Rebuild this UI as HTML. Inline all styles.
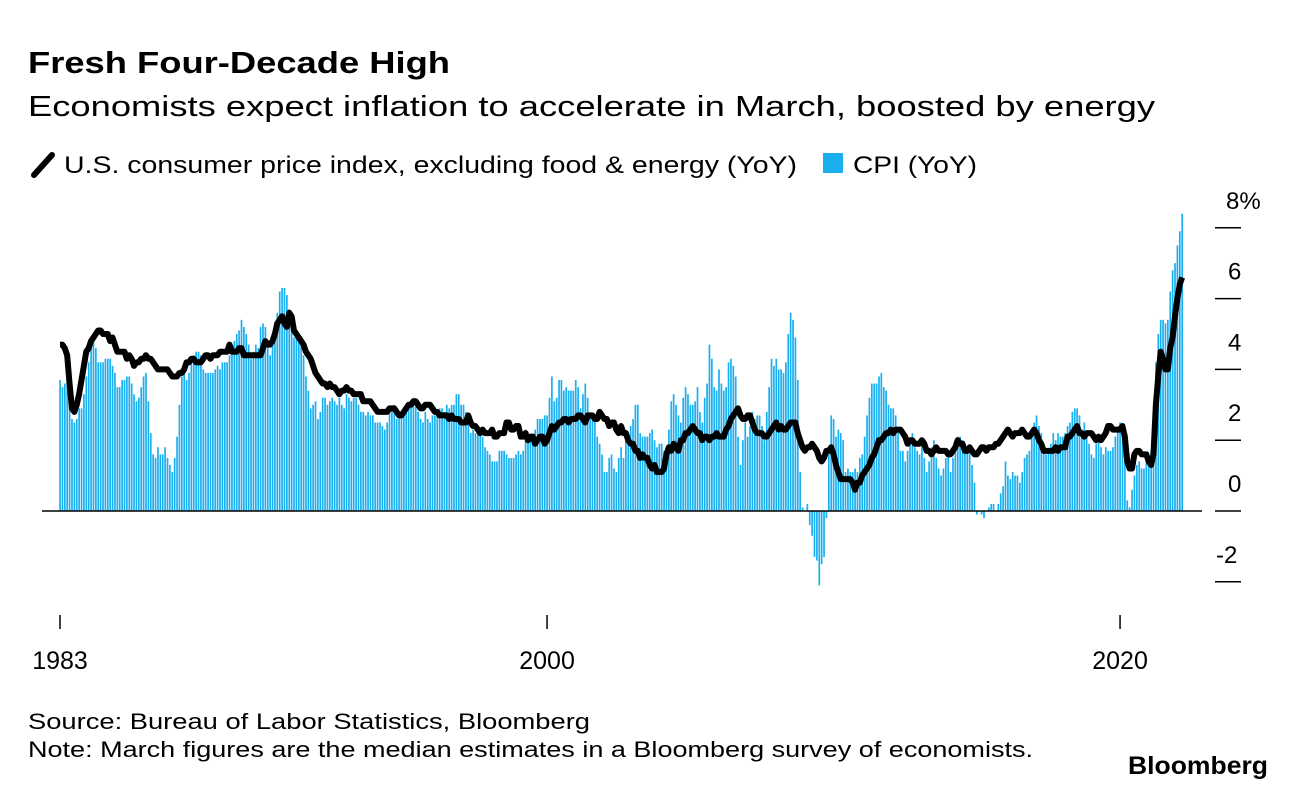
<!DOCTYPE html>
<html><head><meta charset="utf-8"><style>
body{margin:0;background:#fff;width:1296px;height:790px;overflow:hidden;font-family:"Liberation Sans",Arial,sans-serif;}
</style></head><body>
<svg width="1296" height="790" xmlns="http://www.w3.org/2000/svg">
<text x="28" y="73" font-size="31" font-weight="bold" fill="#000" textLength="422" lengthAdjust="spacingAndGlyphs">Fresh Four-Decade High</text>
<text x="28" y="116" font-size="29" fill="#000" textLength="1127" lengthAdjust="spacingAndGlyphs">Economists expect inflation to accelerate in March, boosted by energy</text>
<g>
<line x1="34" y1="175" x2="52" y2="155" stroke="#000" stroke-width="6" stroke-linecap="round"/>
<text x="64" y="173" font-size="24" fill="#000" textLength="733" lengthAdjust="spacingAndGlyphs">U.S. consumer price index, excluding food &amp; energy (YoY)</text>
<rect x="823" y="153" width="20" height="20" fill="#1AB0F0"/>
<text x="853" y="173" font-size="24" fill="#000" textLength="124" lengthAdjust="spacingAndGlyphs">CPI (YoY)</text>
</g>
<g id="bars"></g>
<line x1="42" y1="511" x2="1202" y2="511" stroke="#000" stroke-width="1.5"/>
<path id="coreLine" fill="none" stroke="#000" stroke-width="6" stroke-linejoin="round"/>
<g id="yaxis"></g>
<g id="xaxis"></g>
<text x="28" y="729" font-size="22" fill="#000" textLength="562" lengthAdjust="spacingAndGlyphs">Source: Bureau of Labor Statistics, Bloomberg</text>
<text x="28" y="757" font-size="22" fill="#000" textLength="1005" lengthAdjust="spacingAndGlyphs">Note: March figures are the median estimates in a Bloomberg survey of economists.</text>
<text x="1128" y="774" font-size="25" font-weight="bold" fill="#000" textLength="140" lengthAdjust="spacingAndGlyphs">Bloomberg</text>
</svg>
<script>
const startYear = 1983;
const cpi = [
3.7,3.5,3.6,3.9,3.5,2.6,2.5,2.6,2.9,2.9,3.3,3.8,
4.2,4.6,4.8,4.6,4.2,4.2,4.2,4.3,4.3,4.3,4.1,3.9,
3.5,3.5,3.7,3.7,3.8,3.8,3.6,3.3,3.1,3.2,3.5,3.8,
3.9,3.1,2.2,1.6,1.5,1.8,1.6,1.6,1.8,1.5,1.3,1.1,
1.5,2.1,3.0,3.8,3.9,3.7,3.9,4.3,4.4,4.5,4.5,4.4,
4.0,3.9,3.9,3.9,3.9,4.0,4.1,4.0,4.2,4.2,4.2,4.4,
4.7,4.8,5.0,5.1,5.4,5.2,5.0,4.7,4.3,4.5,4.7,4.6,
5.2,5.3,5.2,4.7,4.4,4.7,4.8,5.6,6.2,6.3,6.3,6.1,
5.7,5.3,4.9,4.9,5.0,4.7,4.4,3.8,3.4,2.9,3.0,3.1,
2.6,2.8,3.2,3.2,3.0,3.1,3.2,3.1,3.0,3.2,3.0,2.9,
3.3,3.2,3.1,3.2,3.2,3.0,2.8,2.8,2.7,2.8,2.7,2.7,
2.5,2.5,2.5,2.4,2.3,2.5,2.8,2.9,3.0,2.6,2.7,2.7,
2.8,2.9,2.9,3.1,3.2,3.0,2.8,2.6,2.5,2.8,2.6,2.5,
2.7,2.7,2.8,2.9,2.9,2.8,3.0,2.9,3.0,3.0,3.3,3.3,
3.0,3.0,2.8,2.5,2.2,2.3,2.2,2.2,2.2,2.1,1.8,1.7,
1.6,1.4,1.4,1.4,1.7,1.7,1.7,1.6,1.5,1.5,1.5,1.6,
1.7,1.6,1.7,2.3,2.1,2.0,2.1,2.3,2.6,2.6,2.6,2.7,
2.7,3.2,3.8,3.1,3.2,3.7,3.7,3.4,3.5,3.4,3.4,3.4,
3.7,3.5,2.9,3.3,3.6,3.2,2.7,2.7,2.6,2.1,1.9,1.6,
1.1,1.1,1.5,1.6,1.2,1.1,1.5,1.8,1.5,2.0,2.2,2.4,
2.6,3.0,3.0,2.2,2.1,2.1,2.1,2.2,2.3,2.0,1.8,1.9,
1.9,1.7,1.7,2.3,3.1,3.3,3.0,2.7,2.5,3.2,3.5,3.3,
3.0,3.0,3.1,3.5,2.8,2.5,3.2,3.6,4.7,4.3,3.5,3.4,
4.0,3.6,3.4,3.5,4.2,4.3,4.1,3.8,2.1,1.3,2.0,2.5,
2.1,2.4,2.8,2.6,2.7,2.7,2.4,2.0,2.8,3.5,4.3,4.1,
4.3,4.0,4.0,3.9,4.2,5.0,5.6,5.4,4.9,3.7,1.1,0.1,
0.0,0.2,-0.4,-0.7,-1.3,-1.4,-2.1,-1.5,-1.3,-0.2,1.8,2.7,
2.6,2.1,2.3,2.2,2.0,1.1,1.2,1.1,1.1,1.2,1.1,1.5,
1.6,2.1,2.7,3.2,3.6,3.6,3.6,3.8,3.9,3.5,3.4,3.0,
2.9,2.9,2.7,2.3,1.7,1.7,1.4,1.7,2.0,2.2,1.8,1.7,
1.6,2.0,1.5,1.1,1.4,1.8,2.0,1.5,1.2,1.0,1.2,1.5,
1.6,1.1,1.5,2.0,2.1,2.1,2.0,1.7,1.7,1.7,1.3,0.8,
-0.1,0.0,-0.1,-0.2,0.0,0.1,0.2,0.2,0.0,0.2,0.5,0.7,
1.4,1.0,0.9,1.1,1.0,1.0,0.8,1.1,1.5,1.6,1.7,2.1,
2.5,2.7,2.4,2.2,1.9,1.6,1.7,1.9,2.2,2.0,2.2,2.1,
2.1,2.2,2.4,2.5,2.8,2.9,2.9,2.7,2.3,2.5,2.2,1.9,
1.6,1.5,1.9,2.0,1.8,1.6,1.8,1.7,1.7,1.8,2.1,2.3,
2.5,2.3,1.5,0.3,0.1,0.6,1.0,1.3,1.4,1.2,1.2,1.4,
1.4,1.7,2.6,4.2,5.0,5.4,5.4,5.3,5.4,6.2,6.8,7.0,
7.5,7.9,8.4];
const core = [
4.7,4.7,4.6,4.4,3.6,2.9,2.8,3.0,3.3,3.7,4.1,4.5,
4.6,4.8,4.9,5.0,5.1,5.1,5.0,5.0,5.0,4.8,4.9,4.7,
4.5,4.5,4.5,4.5,4.3,4.4,4.3,4.1,4.2,4.2,4.3,4.3,
4.4,4.3,4.3,4.2,4.1,4.0,4.0,4.0,4.0,4.0,3.9,3.8,
3.8,3.8,3.9,3.9,4.0,4.2,4.2,4.3,4.3,4.2,4.2,4.2,
4.3,4.4,4.4,4.3,4.4,4.4,4.4,4.5,4.5,4.5,4.5,4.7,
4.5,4.5,4.5,4.6,4.6,4.4,4.4,4.4,4.4,4.4,4.4,4.4,
4.4,4.6,4.8,4.7,4.7,4.8,5.0,5.3,5.4,5.5,5.3,5.2,
5.6,5.5,5.1,5.0,4.9,4.8,4.7,4.5,4.4,4.3,4.1,3.9,
3.8,3.7,3.6,3.6,3.5,3.6,3.5,3.5,3.4,3.3,3.4,3.4,
3.5,3.4,3.4,3.3,3.3,3.3,3.3,3.1,3.1,3.1,3.1,3.0,
2.9,2.8,2.8,2.8,2.8,2.8,2.9,2.9,2.9,2.8,2.7,2.7,
2.8,2.9,3.0,3.0,3.1,3.1,3.0,2.9,2.9,3.0,3.0,3.0,
2.9,2.8,2.8,2.7,2.7,2.7,2.7,2.6,2.7,2.6,2.6,2.6,
2.5,2.5,2.5,2.7,2.5,2.4,2.4,2.3,2.2,2.3,2.2,2.2,
2.2,2.3,2.1,2.1,2.2,2.2,2.2,2.5,2.5,2.3,2.3,2.4,
2.4,2.1,2.1,2.2,2.0,2.1,2.1,1.9,2.0,2.1,2.1,1.9,
2.0,2.2,2.4,2.3,2.4,2.5,2.5,2.6,2.6,2.5,2.6,2.6,
2.6,2.7,2.7,2.6,2.5,2.7,2.7,2.7,2.6,2.6,2.8,2.7,
2.6,2.6,2.4,2.5,2.5,2.3,2.2,2.4,2.2,2.2,2.0,1.9,
1.9,1.7,1.7,1.5,1.6,1.5,1.5,1.3,1.2,1.3,1.1,1.1,
1.1,1.2,1.6,1.8,1.7,1.9,1.8,1.7,2.0,2.0,2.2,2.2,
2.3,2.4,2.3,2.2,2.2,2.0,2.1,2.1,2.0,2.1,2.1,2.2,
2.1,2.1,2.1,2.3,2.4,2.6,2.7,2.8,2.9,2.7,2.6,2.6,
2.7,2.7,2.5,2.3,2.2,2.2,2.2,2.1,2.1,2.2,2.3,2.4,
2.5,2.3,2.4,2.3,2.3,2.4,2.5,2.5,2.5,2.2,2.0,1.8,
1.7,1.8,1.8,1.9,1.8,1.7,1.5,1.4,1.5,1.7,1.7,1.8,
1.6,1.3,1.1,0.9,0.9,0.9,0.9,0.9,0.8,0.6,0.8,0.8,
1.0,1.1,1.2,1.3,1.5,1.6,1.8,2.0,2.0,2.1,2.2,2.2,
2.3,2.2,2.3,2.3,2.3,2.2,2.1,1.9,2.0,2.0,1.9,1.9,
1.9,2.0,1.9,1.7,1.7,1.6,1.7,1.8,1.7,1.7,1.7,1.7,
1.6,1.6,1.7,1.8,2.0,1.9,1.9,1.7,1.7,1.8,1.7,1.6,
1.6,1.7,1.8,1.8,1.7,1.8,1.8,1.8,1.9,1.9,2.0,2.1,
2.2,2.3,2.2,2.1,2.2,2.2,2.2,2.3,2.2,2.1,2.1,2.2,
2.3,2.2,2.0,1.9,1.7,1.7,1.7,1.7,1.7,1.8,1.7,1.8,
1.8,1.8,2.1,2.1,2.2,2.3,2.4,2.2,2.2,2.1,2.2,2.2,
2.2,2.1,2.0,2.1,2.0,2.1,2.2,2.4,2.4,2.3,2.3,2.3,
2.3,2.4,2.1,1.4,1.2,1.2,1.6,1.7,1.7,1.6,1.6,1.6,
1.4,1.3,1.6,3.0,3.8,4.5,4.3,4.0,4.0,4.6,4.9,5.5,
6.0,6.4,6.6];
const yTicks = [-2,0,2,4,6,8];
const yTickLabels = ["-2","0","2","4","6","8%"];
const xTicks = [1983,2000,2020];
const xTickLabels = ["1983","2000","2020"];

const NS="http://www.w3.org/2000/svg";
const x = t => 60 + (t - startYear) * 28.65;
const y = v => 511 - v * 35.4;
const mx = i => x(startYear + i/12);

const bars=document.getElementById('bars');
cpi.forEach((v,i)=>{
  const r=document.createElementNS(NS,'rect');
  const y0=y(0), y1=y(v);
  r.setAttribute('x',(mx(i)-0.8).toFixed(2));
  r.setAttribute('width','1.7');
  r.setAttribute('y',Math.min(y0,y1).toFixed(2));
  r.setAttribute('height',Math.abs(y1-y0).toFixed(2));
  r.setAttribute('fill','#1AB0F0');
  
  
  bars.appendChild(r);
});
document.getElementById('coreLine').setAttribute('d',
  core.map((v,i)=>(i?'L':'M')+mx(i).toFixed(2)+','+y(v).toFixed(2)).join(''));

const ya=document.getElementById('yaxis');
yTicks.forEach((v,i)=>{
  const l=document.createElementNS(NS,'line');
  l.setAttribute('x1','1215');l.setAttribute('x2','1241');
  l.setAttribute('y1',y(v));l.setAttribute('y2',y(v));
  l.setAttribute('stroke','#000');l.setAttribute('stroke-width','1.5');
  
  
  ya.appendChild(l);
  const t=document.createElementNS(NS,'text');
  t.setAttribute('x', v===8 ? '1226' : (v<0 ? '1216' : '1228'));
  t.setAttribute('y',y(v)-19);
  t.setAttribute('font-size','24');
  t.textContent=yTickLabels[i];
  
  
  ya.appendChild(t);
});
const xa=document.getElementById('xaxis');
xTicks.forEach((yr,i)=>{
  const l=document.createElementNS(NS,'line');
  l.setAttribute('x1',x(yr));l.setAttribute('x2',x(yr));
  l.setAttribute('y1','615');l.setAttribute('y2','629');
  l.setAttribute('stroke','#000');l.setAttribute('stroke-width','1.5');
  
  
  xa.appendChild(l);
  const t=document.createElementNS(NS,'text');
  t.setAttribute('x',x(yr));t.setAttribute('y','669');
  t.setAttribute('font-size','25');t.setAttribute('text-anchor','middle');
  t.textContent=xTickLabels[i];
  
  
  xa.appendChild(t);
});
</script>
</body></html>
